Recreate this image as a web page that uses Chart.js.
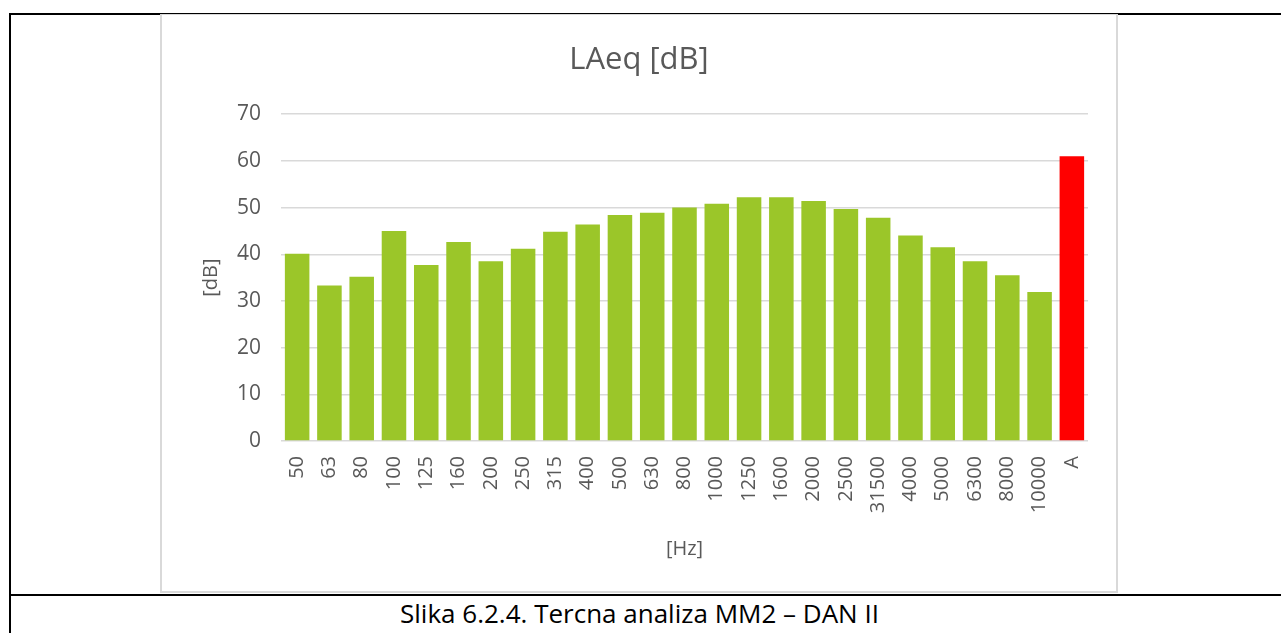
<!DOCTYPE html>
<html>
<head>
<meta charset="utf-8">
<script src="https://cdn.jsdelivr.net/npm/chart.js@4"></script>
<style>
  html, body { margin:0; padding:0; background:#fff; width:1281px; height:633px; overflow:hidden; }
  .line { position:absolute; background:#000; }
  #frame { position:absolute; left:160px; top:14px; width:958px; height:579px; box-sizing:border-box; border:2px solid #d9d9d9; border-top-width:1px; background:#fff; }
  #wrap { position:absolute; left:162px; top:15px; width:954px; height:576px; }
  #caption { position:absolute; left:0; width:1279px; top:597px; text-align:center; font-family:"Open Sans"; font-size:26px; color:#000; line-height:32px; }
</style>
</head>
<body>
<div class="line" style="left:9px; top:13px; width:1272px; height:2px;"></div>
<div class="line" style="left:9px; top:13px; width:2px; height:620px;"></div>
<div class="line" style="left:9px; top:594px; width:1272px; height:2px;"></div>
<div id="frame"></div>
<div id="wrap"><canvas id="c" width="954" height="576"></canvas></div>
<div id="caption">Slika 6.2.4. Tercna analiza MM2 – DAN II</div>
<script>
const categories = ['50','63','80','100','125','160','200','250','315','400','500','630','800','1000','1250','1600','2000','2500','31500','4000','5000','6300','8000','10000','A'];
const values = [40.1,33.3,35.2,45.0,37.7,42.6,38.5,41.2,44.8,46.4,48.4,48.9,50.0,50.8,52.2,52.2,51.4,49.7,47.8,44.0,41.5,38.5,35.5,31.9,61.0];
const yTicks = [0,10,20,30,40,50,60,70];
const titleText = 'LAeq [dB]';
const yTitle = '[dB]';
const xTitle = '[Hz]';
const green = '#9bc629';
const red = '#ff0000';
const barColors = categories.map(c => c === 'A' ? red : green);

new Chart(document.getElementById('c'), {
  type: 'bar',
  data: {
    labels: categories,
    datasets: [{ data: values, backgroundColor: barColors, borderWidth: 0, categoryPercentage: 1, barPercentage: 0.76 }]
  },
  options: {
    responsive: false,
    animation: false,
    layout: { padding: { left: 28, right: 28, top: 0, bottom: 0 } },
    plugins: {
      legend: { display: false },
      tooltip: { enabled: false },
      title: {
        display: true, text: titleText, color: '#595959',
        font: { family: 'Open Sans', size: 31, weight: 'normal', lineHeight: 1.2 },
        padding: { top: 27, bottom: 35 }
      }
    },
    scales: {
      x: {
        grid: { display: false, drawTicks: false },
        border: { display: false },
        ticks: { color: '#595959', font: { family: 'Open Sans', size: 20 }, minRotation: 90, maxRotation: 90, padding: 15, autoSkip: false },
        title: { display: true, text: xTitle, color: '#595959', font: { family: 'Open Sans', size: 20 }, padding: { top: 0, bottom: 30 } },
        afterFit: s => { s.height = 150; }
      },
      y: {
        min: 0, max: 70,
        afterBuildTicks: s => { s.ticks = yTicks.map(v => ({ value: v })); },
        grid: { color: '#d9d9d9', lineWidth: 1.5, drawTicks: false },
        border: { display: false },
        ticks: { color: '#595959', font: { family: 'Open Sans', size: 21 }, padding: 20 },
        title: { display: true, text: yTitle, color: '#595959', font: { family: 'Open Sans', size: 20 }, padding: { top: 9, bottom: 0 } },
        afterFit: s => { s.width = 91; }
      }
    }
  }
});
</script>
</body>
</html>
